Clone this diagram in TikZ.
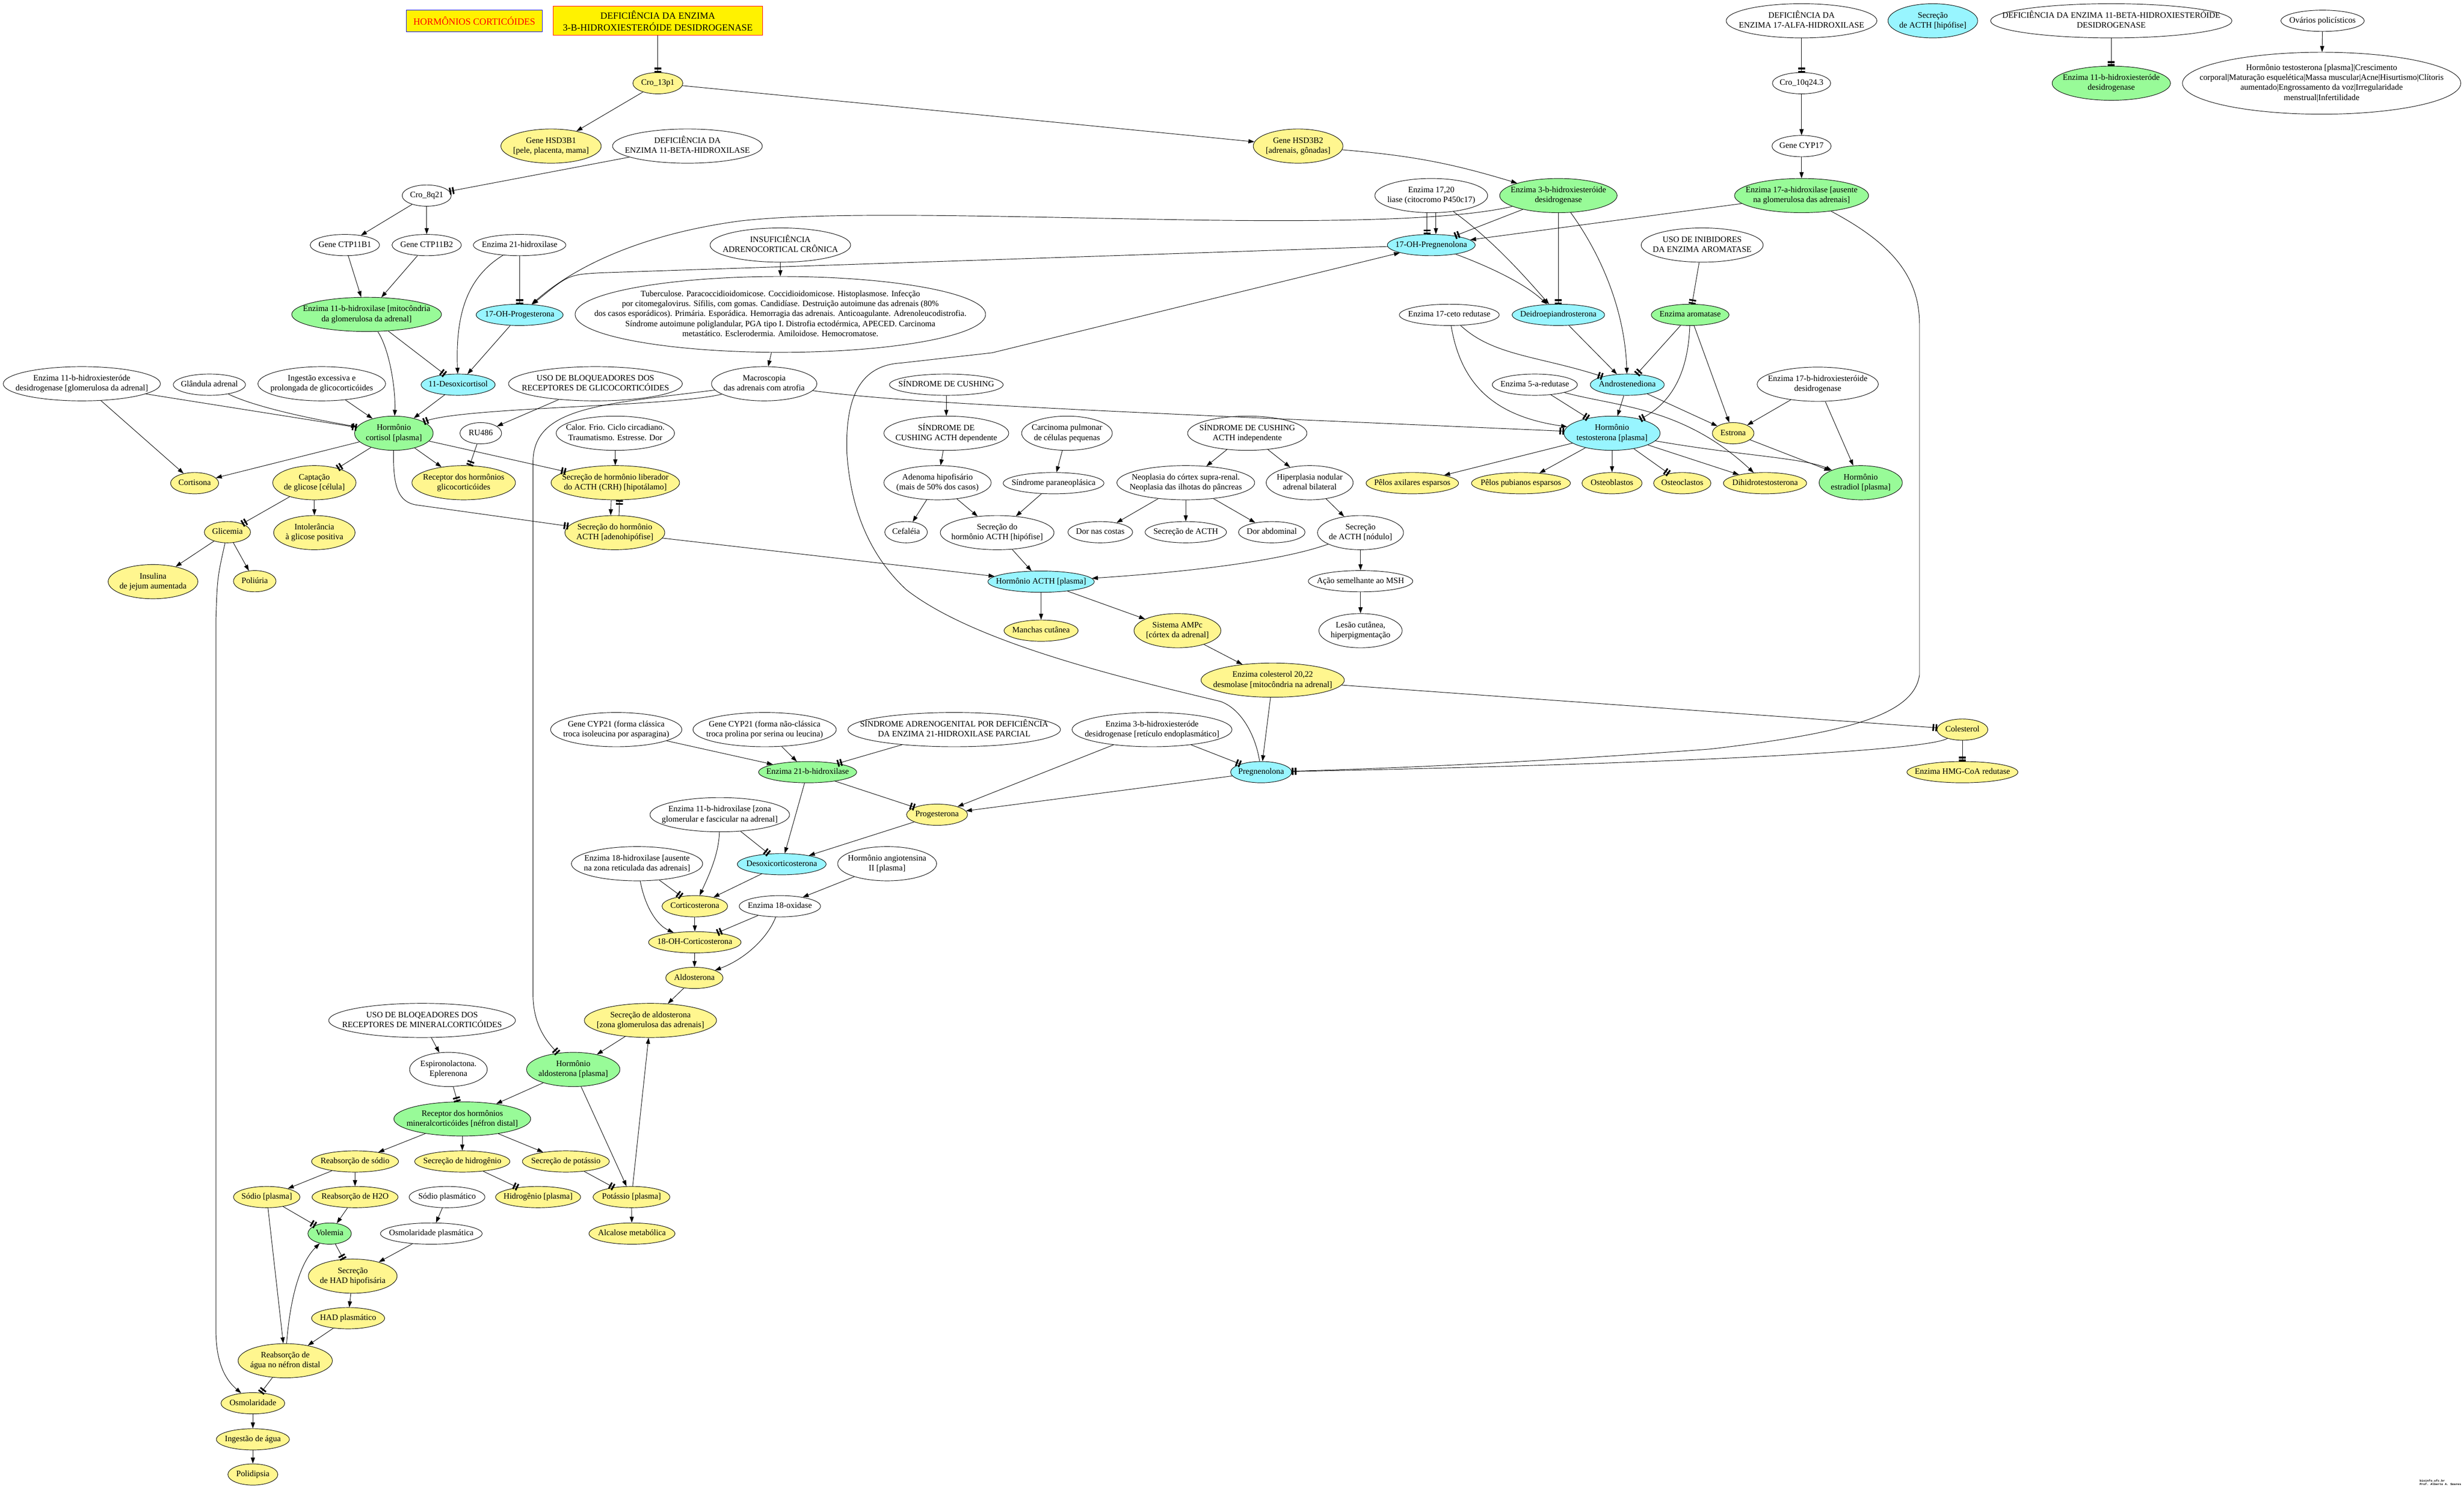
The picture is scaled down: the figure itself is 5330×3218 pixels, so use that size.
\documentclass[tikz,border=0pt]{standalone}
\usepackage{fontspec}
\setmainfont{Liberation Serif}
\setmonofont{Liberation Mono}
\usetikzlibrary{shapes.geometric,arrows.meta}
\definecolor{amarelo}{HTML}{FFF68F}
\definecolor{verde}{HTML}{98FB98}
\definecolor{ciano}{HTML}{98F5FF}
\newcommand{\rotulo}[1]{\makebox[0pt]{\begin{tabular}{@{}c@{}}#1\end{tabular}}}
\tikzset{
  nd/.style={ellipse, draw, line width=1pt, inner sep=0pt, font=\fontsize{18}{21.5}\selectfont},
  uma/.style={nd, minimum height=46pt},
  duas/.style={nd, minimum height=74pt},
  wd/.style={minimum width=#1pt},
  yel/.style={fill=amarelo},
  grn/.style={fill=verde},
  cyn/.style={fill=ciano},
  caixa/.style={draw, line width=1pt, fill=yellow, align=center, font=\fontsize{20.5}{25}\selectfont},
  seta/.style={line width=1pt, -{Triangle[length=13pt,width=9pt]}},
  bloq/.style={line width=1pt, -{Rectangle[length=3.5pt,width=15pt,sep=3pt]Rectangle[length=3.5pt,width=15pt]}}
}
\begin{document}
\begin{tikzpicture}[x=1pt, y=-1pt]
  \fill[white] (0,0) rectangle (5330,3218);
  \useasboundingbox (0,0) rectangle (5330,3218);

  \node[caixa, draw=blue, text=red, minimum width=294pt, minimum height=47pt] (hcort) at (1026,45) {HORMÔNIOS CORTICÓIDES};
  \node[caixa, draw=red, minimum width=453pt, minimum height=63pt] (def3b) at (1423,45) {DEFICIÊNCIA DA ENZIMA\\3-B-HIDROXIESTERÓIDE DESIDROGENASE};
  \node[duas, wd=326] (dalfa) at (3897,45) {\rotulo{DEFICIÊNCIA DA\\ENZIMA 17-ALFA-HIDROXILASE}};
  \node[duas, cyn, wd=194] (secacthx) at (4181,45) {\rotulo{Secreção\\de ACTH [hipófise]}};
  \node[duas, wd=522] (d11hsd) at (4567,45) {\rotulo{DEFICIÊNCIA DA ENZIMA 11-BETA-HIDROXIESTERÓIDE\\DESIDROGENASE}};
  \node[uma, wd=180] (ovar) at (5024,45) {\rotulo{Ovários policísticos}};

  \node[uma, yel, wd=108] (c13) at (1423,180) {\rotulo{Cro\_13p1}};
  \node[uma, wd=126] (c10) at (3897,180) {\rotulo{Cro\_10q24.3}};
  \node[duas, grn, wd=256] (e11hsd) at (4567,180) {\rotulo{Enzima 11-b-hidroxiesteróde\\desidrogenase}};
  \node[nd, minimum height=134pt, wd=602] (testbig) at (5022,180) {\rotulo{Hormônio testosterona [plasma]|Crescimento\\corporal|Maturação esquelética|Massa muscular|Acne|Hisurtismo|Clítoris\\aumentado|Engrossamento da voz|Irregularidade\\menstrual|Infertilidade}};

  \node[duas, yel, wd=217] (gh1) at (1192,316) {\rotulo{Gene HSD3B1\\{[pele, placenta, mama]}}};
  \node[duas, wd=324] (def11b) at (1487,316) {\rotulo{DEFICIÊNCIA DA\\ENZIMA 11-BETA-HIDROXILASE}};
  \node[duas, yel, wd=194] (gh2) at (2808,316) {\rotulo{Gene HSD3B2\\{[adrenais, gônadas]}}};
  \node[uma, wd=128] (gcyp17) at (3897,316) {\rotulo{Gene CYP17}};

  \node[uma, wd=106] (c8) at (923,423) {\rotulo{Cro\_8q21}};
  \node[duas, wd=244] (e1720) at (3096,423) {\rotulo{Enzima 17,20\\liase (citocromo P450c17)}};
  \node[duas, grn, wd=254] (e3b) at (3371,423) {\rotulo{Enzima 3-b-hidroxiesteróide\\desidrogenase}};
  \node[duas, grn, wd=290] (e17a) at (3897,423) {\rotulo{Enzima 17-a-hidroxilase [ausente\\na glomerulosa das adrenais]}};

  \node[uma, wd=150] (ctp1) at (746,530) {\rotulo{Gene CTP11B1}};
  \node[uma, wd=150] (ctp2) at (923,530) {\rotulo{Gene CTP11B2}};
  \node[uma, wd=200] (e21) at (1124,530) {\rotulo{Enzima 21-hidroxilase}};
  \node[duas, wd=304] (insuf) at (1688,530) {\rotulo{INSUFICIÊNCIA\\ADRENOCORTICAL CRÔNICA}};
  \node[uma, cyn, wd=190] (ohpreg) at (3096,530) {\rotulo{17-OH-Pregnenolona}};
  \node[duas, wd=264] (usoinib) at (3682,530) {\rotulo{USO DE INIBIDORES\\DA ENZIMA AROMATASE}};

  \node[duas, grn, wd=324] (e11bm) at (793,680) {\rotulo{Enzima 11-b-hidroxilase [mitocôndria\\da glomerulosa da adrenal]}};
  \node[uma, cyn, wd=188] (ohprog) at (1124,681) {\rotulo{17-OH-Progesterona}};
  \node[nd, minimum height=164pt, wd=888] (tuberc) at (1688,680) {\rotulo{Tuberculose. Paracoccidioidomicose. Coccidioidomicose. Histoplasmose. Infecção\\por citomegalovirus. Sífilis, com gomas. Candidíase. Destruição autoimune das adrenais (80\%\\dos casos esporádicos). Primária. Esporádica. Hemorragia das adrenais. Anticoagulante. Adrenoleucodistrofia.\\Síndrome autoimune poliglandular, PGA tipo I. Distrofia ectodérmica, APECED. Carcinoma\\metastático. Esclerodermia. Amiloidose. Hemocromatose.}};
  \node[uma, wd=216] (e17c) at (3135,681) {\rotulo{Enzima 17-ceto redutase}};
  \node[uma, cyn, wd=200] (dhea) at (3371,681) {\rotulo{Deidroepiandrosterona}};
  \node[uma, grn, wd=168] (arom) at (3656,681) {\rotulo{Enzima aromatase}};

  \node[duas, wd=340] (e11hg) at (177,830) {\rotulo{Enzima 11-b-hidroxiesteróde\\desidrogenase [glomerulosa da adrenal]}};
  \node[uma, wd=156] (gland) at (453,832) {\rotulo{Glândula adrenal}};
  \node[duas, wd=276] (ingest) at (696,830) {\rotulo{Ingestão excessiva e\\prolongada de glicocorticóides}};
  \node[uma, cyn, wd=160] (desoxcort) at (991,832) {\rotulo{11-Desoxicortisol}};
  \node[duas, wd=376] (usogl) at (1288,830) {\rotulo{USO DE BLOQUEADORES DOS\\RECEPTORES DE GLICOCORTICÓIDES}};
  \node[duas, wd=228] (macro) at (1653,830) {\rotulo{Macroscopia\\das adrenais com atrofia}};
  \node[uma, wd=246] (sc) at (2047,832) {\rotulo{SÍNDROME DE CUSHING}};
  \node[uma, wd=184] (e5a) at (3320,832) {\rotulo{Enzima 5-a-redutase}};
  \node[uma, cyn, wd=160] (andro) at (3520,832) {\rotulo{Androstenediona}};
  \node[duas, wd=262] (e17b) at (3932,831) {\rotulo{Enzima 17-b-hidroxiesteróide\\desidrogenase}};

  \node[duas, grn, wd=170] (cortisol) at (852,937) {\rotulo{Hormônio\\cortisol [plasma]}};
  \node[uma, wd=90] (ru486) at (1040,937) {\rotulo{RU486}};
  \node[duas, wd=256] (calor) at (1331,937) {\rotulo{Calor. Frio. Ciclo circadiano.\\Traumatismo. Estresse. Dor}};
  \node[duas, wd=270] (scdep) at (2047,937) {\rotulo{SÍNDROME DE\\CUSHING ACTH dependente}};
  \node[duas, wd=196] (carcin) at (2308,937) {\rotulo{Carcinoma pulmonar\\de células pequenas}};
  \node[duas, wd=258] (scind) at (2698,937) {\rotulo{SÍNDROME DE CUSHING\\ACTH independente}};
  \node[duas, cyn, wd=208] (testos) at (3487,937) {\rotulo{Hormônio\\testosterona [plasma]}};
  \node[uma, yel, wd=90] (estrona) at (3749,937) {\rotulo{Estrona}};

  \node[uma, yel, wd=104] (cortisona) at (421,1045) {\rotulo{Cortisona}};
  \node[duas, yel, wd=180] (captacao) at (680,1044) {\rotulo{Captação\\de glicose [célula]}};
  \node[duas, yel, wd=224] (recgl) at (1003,1044) {\rotulo{Receptor dos hormônios\\glicocorticóides}};
  \node[duas, yel, wd=278] (crh) at (1331,1044) {\rotulo{Secreção de hormônio liberador\\do ACTH (CRH) [hipotálamo]}};
  \node[duas, wd=232] (adenoma) at (2028,1044) {\rotulo{Adenoma hipofisário\\(mais de 50\% dos casos)}};
  \node[uma, wd=218] (paraneo) at (2279,1045) {\rotulo{Síndrome paraneoplásica}};
  \node[duas, wd=298] (neopl) at (2565,1044) {\rotulo{Neoplasia do córtex supra-renal.\\Neoplasia das ilhotas do pâncreas}};
  \node[duas, wd=188] (hiper) at (2833,1044) {\rotulo{Hiperplasia nodular\\adrenal bilateral}};
  \node[uma, yel, wd=200] (pelosax) at (3055,1045) {\rotulo{Pêlos axilares esparsos}};
  \node[uma, yel, wd=214] (pelospub) at (3290,1045) {\rotulo{Pêlos pubianos esparsos}};
  \node[uma, yel, wd=130] (osteob) at (3487,1045) {\rotulo{Osteoblastos}};
  \node[uma, yel, wd=124] (osteocl) at (3639,1045) {\rotulo{Osteoclastos}};
  \node[uma, yel, wd=180] (dht) at (3818,1045) {\rotulo{Dihidrotestosterona}};
  \node[duas, grn, wd=180] (estradiol) at (4025,1044) {\rotulo{Hormônio\\estradiol [plasma]}};

  \node[uma, yel, wd=100] (glic) at (492,1151) {\rotulo{Glicemia}};
  \node[duas, yel, wd=176] (intol) at (680,1152) {\rotulo{Intolerância\\à glicose positiva}};
  \node[duas, yel, wd=216] (acthad) at (1330,1152) {\rotulo{Secreção do hormônio\\ACTH [adenohipófise]}};
  \node[uma, wd=92] (cefal) at (1960,1151) {\rotulo{Cefaléia}};
  \node[duas, wd=246] (secacthip) at (2157,1152) {\rotulo{Secreção do\\hormônio ACTH [hipófise]}};
  \node[uma, wd=140] (dorcost) at (2380,1151) {\rotulo{Dor nas costas}};
  \node[uma, wd=176] (secacth) at (2565,1151) {\rotulo{Secreção de ACTH}};
  \node[uma, wd=144] (dorabd) at (2751,1151) {\rotulo{Dor abdominal}};
  \node[duas, wd=186] (secnod) at (2943,1152) {\rotulo{Secreção\\de ACTH [nódulo]}};

  \node[duas, yel, wd=194] (insul) at (331,1258) {\rotulo{Insulina\\de jejum aumentada}};
  \node[uma, yel, wd=92] (poliur) at (551,1257) {\rotulo{Poliúria}};
  \node[uma, cyn, wd=230] (acthpl) at (2252,1258) {\rotulo{Hormônio ACTH [plasma]}};
  \node[uma, wd=226] (acao) at (2943,1257) {\rotulo{Ação semelhante ao MSH}};

  \node[uma, yel, wd=160] (manchas) at (2252,1364) {\rotulo{Manchas cutânea}};
  \node[duas, yel, wd=188] (amp) at (2547,1364) {\rotulo{Sistema AMPc\\{[córtex da adrenal]}}};
  \node[duas, wd=180] (lesao) at (2943,1364) {\rotulo{Lesão cutânea,\\hiperpigmentação}};
  \node[duas, yel, wd=310] (colest20) at (2753,1471) {\rotulo{Enzima colesterol 20,22\\desmolase [mitocôndria na adrenal]}};

  \node[duas, wd=284] (gcyp21c) at (1333,1578) {\rotulo{Gene CYP21 (forma clássica\\troca isoleucina por asparagina)}};
  \node[duas, wd=310] (gcyp21n) at (1654,1578) {\rotulo{Gene CYP21 (forma não-clássica\\troca prolina por serina ou leucina)}};
  \node[duas, wd=460] (sindad) at (2064,1578) {\rotulo{SÍNDROME ADRENOGENITAL POR DEFICIÊNCIA\\DA ENZIMA 21-HIDROXILASE PARCIAL}};
  \node[duas, wd=346] (e3bret) at (2492,1578) {\rotulo{Enzima 3-b-hidroxiesteróde\\desidrogenase [retículo endoplasmático]}};
  \node[uma, yel, wd=110] (colest) at (4245,1578) {\rotulo{Colesterol}};

  \node[uma, grn, wd=212] (e21b) at (1747,1670) {\rotulo{Enzima 21-b-hidroxilase}};
  \node[uma, cyn, wd=132] (preg) at (2728,1670) {\rotulo{Pregnenolona}};
  \node[uma, yel, wd=240] (hmg) at (4245,1670) {\rotulo{Enzima HMG-CoA redutase}};
  \node[duas, wd=302] (e11bz) at (1557,1762) {\rotulo{Enzima 11-b-hidroxilase [zona\\glomerular e fascicular na adrenal]}};
  \node[uma, yel, wd=132] (prog) at (2027,1762) {\rotulo{Progesterona}};

  \node[duas, wd=284] (e18h) at (1378,1868) {\rotulo{Enzima 18-hidroxilase [ausente\\na zona reticulada das adrenais]}};
  \node[uma, cyn, wd=192] (desoxcs) at (1691,1869) {\rotulo{Desoxicorticosterona}};
  \node[duas, wd=214] (angio) at (1919,1868) {\rotulo{Hormônio angiotensina\\II [plasma]}};
  \node[uma, yel, wd=142] (cortcs) at (1503,1960) {\rotulo{Corticosterona}};
  \node[uma, wd=176] (ox18) at (1687,1960) {\rotulo{Enzima 18-oxidase}};
  \node[uma, yel, wd=200] (oh18) at (1503,2038) {\rotulo{18-OH-Corticosterona}};
  \node[uma, yel, wd=124] (aldos) at (1502,2115) {\rotulo{Aldosterona}};

  \node[duas, wd=404] (usomin) at (913,2207) {\rotulo{USO DE BLOQEADORES DOS\\RECEPTORES DE MINERALCORTICÓIDES}};
  \node[duas, yel, wd=286] (secaldo) at (1407,2207) {\rotulo{Secreção de aldosterona\\{[zona glomerulosa das adrenais]}}};
  \node[duas, wd=168] (espiro) at (970,2313) {\rotulo{Espironolactona.\\Eplerenona}};
  \node[duas, grn, wd=202] (aldop) at (1240,2313) {\rotulo{Hormônio\\aldosterona [plasma]}};
  \node[duas, grn, wd=296] (recmin) at (1000,2420) {\rotulo{Receptor dos hormônios\\mineralcorticóides [néfron distal]}};
  \node[uma, yel, wd=188] (reabna) at (768,2512) {\rotulo{Reabsorção de sódio}};
  \node[uma, yel, wd=206] (sechid) at (1000,2512) {\rotulo{Secreção de hidrogênio}};
  \node[uma, yel, wd=188] (secpot) at (1224,2512) {\rotulo{Secreção de potássio}};
  \node[uma, yel, wd=144] (sodiop) at (577,2589) {\rotulo{Sódio [plasma]}};
  \node[uma, yel, wd=186] (reabh2o) at (768,2589) {\rotulo{Reabsorção de H2O}};
  \node[uma, wd=164] (sodpl) at (967,2589) {\rotulo{Sódio plasmático}};
  \node[uma, yel, wd=184] (hidrog) at (1164,2589) {\rotulo{Hidrogênio [plasma]}};
  \node[uma, yel, wd=166] (potas) at (1366,2589) {\rotulo{Potássio [plasma]}};
  \node[uma, grn, wd=94] (volem) at (713,2668) {\rotulo{Volemia}};
  \node[uma, wd=220] (osmpl) at (933,2668) {\rotulo{Osmolaridade plasmática}};
  \node[uma, yel, wd=186] (alcal) at (1367,2668) {\rotulo{Alcalose metabólica}};
  \node[duas, yel, wd=192] (sechad) at (763,2760) {\rotulo{Secreção\\de HAD hipofisária}};
  \node[uma, yel, wd=158] (hadpl) at (753,2851) {\rotulo{HAD plasmático}};
  \node[duas, yel, wd=204] (reabag) at (617,2943) {\rotulo{Reabsorção de\\água no néfron distal}};
  \node[uma, yel, wd=138] (osmol) at (547,3035) {\rotulo{Osmolaridade}};
  \node[uma, yel, wd=158] (ingag) at (547,3113) {\rotulo{Ingestão de água}};
  \node[uma, yel, wd=108] (polid) at (547,3189) {\rotulo{Polidipsia}};

  \node[anchor=south east, align=left, inner sep=0pt, font=\ttfamily\bfseries\fontsize{6.5}{8}\selectfont] (cred) at (5324,3213) {bioinfo.ufc.br\\Prof. Alberto A. Soares};

  \draw[bloq] (def3b) -- (c13);
  \draw[seta] (c13) -- (gh1);
  \draw[seta] (c13) -- (gh2);
  \draw[bloq] (def11b) -- (c8);
  \draw[seta] (gh2) to[bend left=6] (e3b);
  \draw[bloq] (dalfa) -- (c10);
  \draw[seta] (c10) -- (gcyp17);
  \draw[seta] (gcyp17) -- (e17a);
  \draw[bloq] (d11hsd) -- (e11hsd);
  \draw[seta] (ovar) -- (testbig);

  \draw[seta] (c8) -- (ctp1);
  \draw[seta] (c8) -- (ctp2);
  \draw[seta] (ctp1) -- (e11bm);
  \draw[seta] (ctp2) -- (e11bm);
  \draw[bloq] (e21) -- (ohprog);
  \draw[seta] (e21) .. controls (1010,600) and (985,680) .. (desoxcort);
  \draw[bloq] (e11bm) -- (desoxcort);
  \draw[seta] (ohprog) -- (desoxcort);
  \draw[seta] (e11bm) .. controls (845,760) and (856,850) .. (cortisol);
  \draw[bloq] (e11hg) -- (cortisol);
  \draw[seta] (e11hg) -- (cortisona);
  \draw[seta] (gland) .. controls (540,875) and (640,900) .. (cortisol);
  \draw[seta] (ingest) -- (cortisol);
  \draw[seta] (desoxcort) -- (cortisol);
  \draw[bloq] (macro) .. controls (1450,880) and (1000,880) .. (cortisol);
  \draw[bloq] (macro) .. controls (1300,875) and (1153,880) .. (1153,1000) -- (1153,2150) .. controls (1153,2220) and (1185,2255) .. (aldop);
  \draw[bloq] (macro) .. controls (1950,872) and (2400,890) .. (testos);

  \draw[seta] (cortisol) -- (cortisona);
  \draw[bloq] (cortisol) -- (captacao);
  \draw[seta] (cortisol) -- (recgl);
  \draw[bloq] (cortisol) -- (crh);
  \draw[bloq] (cortisol) .. controls (850,1050) and (860,1085) .. (900,1092) -- (acthad);
  \draw[seta] (usogl) -- (ru486);
  \draw[bloq] (ru486) -- (recgl);
  \draw[seta] (calor) -- (crh);
  \draw[seta] ([xshift=-9pt]crh.south) -- ([xshift=-9pt]acthad.north);
  \draw[bloq] ([xshift=9pt]acthad.north) -- ([xshift=9pt]crh.south);
  \draw[bloq] (captacao) -- (glic);
  \draw[seta] (captacao) -- (intol);
  \draw[seta] (glic) -- (insul);
  \draw[seta] (glic) -- (poliur);
  \draw[seta] (glic) .. controls (470,1250) .. (467,1340) -- (467,2880) .. controls (468,2960) and (495,2990) .. (osmol);

  \draw[bloq] ([xshift=-9pt]e1720.south) -- ([xshift=-9pt]ohpreg.north);
  \draw[seta] ([xshift=10pt]e1720.south) -- ([xshift=10pt]ohpreg.north);
  \draw[bloq] (e3b) -- (ohpreg);
  \draw[seta] (e17a) -- (ohpreg);
  \draw[seta] (e3b) .. controls (3150,475) and (2900,480) .. (2600,476) .. controls (2200,470) and (1800,455) .. (1600,478) .. controls (1400,505) and (1250,570) .. (ohprog);
  \draw[seta] (ohpreg) -- (1300,590) .. controls (1230,594) .. (ohprog);
  \draw[seta] (ohpreg) .. controls (3230,580) and (3300,615) .. (dhea);
  \draw[seta] (e1720) .. controls (3230,520) and (3300,600) .. (dhea);
  \draw[bloq] (e3b) -- (dhea);
  \draw[seta] (e3b) .. controls (3470,560) and (3515,680) .. (andro);
  \draw[bloq] (usoinib) -- (arom);
  \draw[bloq] (e17c) .. controls (3230,770) and (3330,770) .. (andro);
  \draw[seta] (e17c) .. controls (3160,830) and (3230,900) .. (testos);
  \draw[seta] (dhea) -- (andro);
  \draw[bloq] (arom) -- (andro);
  \draw[bloq] (arom) .. controls (3652,800) and (3620,870) .. (testos);
  \draw[seta] (arom) -- (estrona);
  \draw[bloq] (e5a) -- (testos);
  \draw[seta] (e5a) .. controls (3500,880) and (3640,880) .. (dht);
  \draw[seta] (andro) -- (testos);
  \draw[seta] (andro) -- (estrona);
  \draw[seta] (e17b) -- (estrona);
  \draw[seta] (e17b) -- (estradiol);
  \draw[seta] (estrona) -- (estradiol);
  \draw[seta] (testos) -- (pelosax);
  \draw[seta] (testos) -- (pelospub);
  \draw[seta] (testos) -- (osteob);
  \draw[bloq] (testos) -- (osteocl);
  \draw[seta] (testos) -- (dht);
  \draw[seta] (testos) .. controls (3760,985) and (3900,990) .. (estradiol);

  \draw[bloq] (e17a) .. controls (4080,520) and (4152,590) .. (4152,700) -- (4152,1460) .. controls (4140,1545) and (4000,1585) .. (3700,1620) .. controls (3300,1650) and (3000,1662) .. (preg);
  \draw[bloq] (colest) .. controls (4170,1622) and (3700,1650) .. (preg);
  \draw[bloq] (colest20) -- (colest);
  \draw[bloq] (colest) -- (hmg);
  \draw[seta] (colest20) -- (preg);
  \draw[seta] (amp) -- (colest20);
  \draw[seta] (acthpl) -- (manchas);
  \draw[seta] (acthpl) -- (amp);
  \draw[seta] (acthad) -- (acthpl);
  \draw[seta] (secacthip) -- (acthpl);
  \draw[seta] (secnod) .. controls (2780,1210) and (2600,1235) .. (acthpl);
  \draw[seta] (secnod) -- (acao);
  \draw[seta] (acao) -- (lesao);
  \draw[seta] (hiper) -- (secnod);

  \draw[seta] (sc) -- (scdep);
  \draw[seta] (scdep) -- (adenoma);
  \draw[seta] (carcin) -- (paraneo);
  \draw[seta] (scind) -- (neopl);
  \draw[seta] (scind) -- (hiper);
  \draw[seta] (adenoma) -- (cefal);
  \draw[seta] (adenoma) -- (secacthip);
  \draw[seta] (paraneo) -- (secacthip);
  \draw[seta] (neopl) -- (dorcost);
  \draw[seta] (neopl) -- (secacth);
  \draw[seta] (neopl) -- (dorabd);
  \draw[seta] (insuf) -- (tuberc);
  \draw[seta] (tuberc) -- (macro);
  \draw[seta] (preg) .. controls (2718,1600) and (2690,1535) .. (2640,1517) .. controls (2400,1460) and (2100,1385) .. (1960,1275) .. controls (1880,1200) and (1840,1100) .. (1832,980) .. controls (1828,860) and (1860,790) .. (1950,785) -- (2146,763) -- (ohpreg);

  \draw[bloq] (e3bret) -- (preg);
  \draw[seta] (e3bret) -- (prog);
  \draw[seta] (preg) -- (prog);
  \draw[seta] (gcyp21c) -- (e21b);
  \draw[seta] (gcyp21n) -- (e21b);
  \draw[bloq] (sindad) -- (e21b);
  \draw[bloq] (e21b) -- (prog);
  \draw[seta] (e21b) -- (desoxcs);
  \draw[seta] (prog) -- (desoxcs);
  \draw[bloq] (e11bz) -- (desoxcs);
  \draw[seta] (e11bz) .. controls (1555,1850) and (1530,1900) .. (cortcs);
  \draw[bloq] (e18h) -- (cortcs);
  \draw[seta] (e18h) .. controls (1395,1960) and (1420,2000) .. (oh18);
  \draw[seta] (desoxcs) -- (cortcs);
  \draw[seta] (angio) -- (ox18);
  \draw[seta] (cortcs) -- (oh18);
  \draw[bloq] (ox18) -- (oh18);
  \draw[seta] (ox18) .. controls (1660,2030) and (1610,2075) .. (aldos);
  \draw[seta] (oh18) -- (aldos);
  \draw[seta] (aldos) -- (secaldo);
  \draw[seta] (secaldo) -- (aldop);

  \draw[seta] (usomin) -- (espiro);
  \draw[bloq] (espiro) -- (recmin);
  \draw[seta] (aldop) -- (recmin);
  \draw[seta] (aldop) -- (potas);
  \draw[seta] (recmin) -- (reabna);
  \draw[seta] (recmin) -- (sechid);
  \draw[seta] (recmin) -- (secpot);
  \draw[seta] (reabna) -- (sodiop);
  \draw[seta] (reabna) -- (reabh2o);
  \draw[bloq] (sechid) -- (hidrog);
  \draw[bloq] (secpot) -- (potas);
  \draw[seta] (potas) -- (secaldo);
  \draw[seta] (potas) -- (alcal);
  \draw[bloq] (sodiop) -- (volem);
  \draw[seta] (reabh2o) -- (volem);
  \draw[seta] (sodiop) -- (reabag);
  \draw[seta] (reabag) .. controls (625,2840) and (640,2740) .. (volem);
  \draw[seta] (sodpl) -- (osmpl);
  \draw[seta] (osmpl) -- (sechad);
  \draw[bloq] (volem) -- (sechad);
  \draw[seta] (sechad) -- (hadpl);
  \draw[seta] (hadpl) -- (reabag);
  \draw[bloq] (reabag) -- (osmol);
  \draw[seta] (osmol) -- (ingag);
  \draw[seta] (ingag) -- (polid);
\end{tikzpicture}
\end{document}
